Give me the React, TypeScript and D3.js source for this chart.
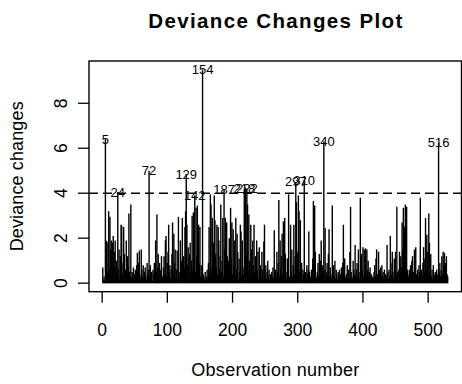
import React from "react";
import * as d3 from "d3";

// Deviance change per observation (index 1..530)
const devianceChanges: number[] = [
  0.7, 0.15, 0.3, 0.1, 6.4, 1.9, 1.85, 0.5, 1.8, 3.2,
  0.6, 2.95, 1.5, 1.9, 0.4, 1.8, 2.1, 0.3, 1.4, 1.9,
  0.5, 1.0, 0.3, 4.05, 0.6, 1.5, 0.2, 1.2, 2.6, 2.55,
  0.4, 0.9, 2.5, 1.3, 0.3, 0.6, 1.9, 0.2, 1.2, 0.8,
  3.1, 0.5, 0.3, 3.5, 0.3, 0.5, 0.2, 0.7, 0.1, 0.4,
  0.6, 0.2, 0.8, 1.35, 0.3, 0.9, 1.45, 0.4, 0.2, 1.5,
  0.6, 0.3, 0.8, 0.2, 0.5, 0.7, 0.3, 0.15, 0.9, 0.4,
  0.6, 5.0, 0.3, 0.8, 0.2, 0.5, 0.1, 0.6, 0.4, 0.9,
  0.3, 1.9, 0.5, 3.05, 0.7, 1.3, 0.2, 0.9, 0.4, 0.6,
  1.2, 0.2, 0.3, 0.7, 1.2, 0.4, 1.9, 2.1, 0.3, 0.9,
  1.4, 2.6, 0.5, 0.8, 0.2, 0.6, 1.3, 2.7, 0.4, 2.2,
  0.9, 1.5, 0.3, 0.6, 1.45, 0.2, 2.95, 0.5, 0.3, 1.9,
  0.6, 1.0, 2.9, 0.4, 1.2, 0.7, 2.5, 3.2, 4.85, 2.6,
  0.8, 1.6, 0.3, 1.3, 1.8, 0.5, 1.0, 3.0, 0.6, 3.15,
  1.7, 3.9, 0.5, 3.35, 1.2, 3.45, 0.4, 2.6, 0.9, 2.5,
  0.3, 0.8, 0.2, 9.5, 0.4, 0.3, 0.2, 0.5, 0.1, 0.3,
  0.6, 0.2, 0.9, 2.5, 0.4, 3.95, 3.5, 0.6, 2.9, 0.5,
  1.8, 3.9, 2.8, 1.3, 0.7, 2.6, 0.4, 2.5, 1.9, 0.6,
  1.2, 3.5, 0.5, 1.0, 2.9, 0.3, 4.15, 1.5, 2.9, 0.6,
  2.7, 1.2, 0.4, 1.0, 2.0, 0.5, 3.35, 1.1, 2.7, 0.4,
  2.4, 0.8, 1.9, 0.3, 2.9, 0.6, 2.2, 1.4, 0.2, 1.1,
  0.5, 2.6, 2.3, 0.3, 1.9, 0.7, 0.4, 4.2, 0.9, 4.25,
  1.3, 4.2, 3.5, 0.6, 3.05, 1.0, 0.4, 2.6, 1.5, 0.3,
  1.9, 0.8, 2.6, 0.5, 1.2, 0.3, 1.9, 0.6, 1.4, 0.2,
  1.6, 0.5, 0.8, 0.3, 1.4, 0.6, 0.2, 1.85, 2.6, 0.4,
  0.8, 0.2, 0.5, 1.0, 0.3, 0.6, 0.15, 0.4, 0.2, 0.5,
  0.3, 0.7, 0.2, 2.35, 0.4, 0.6, 0.2, 1.4, 0.5, 0.9,
  3.7, 0.3, 1.9, 0.6, 1.2, 2.2, 0.4, 2.75, 0.8, 2.9,
  1.3, 0.5, 0.2, 1.1, 0.6, 3.95, 0.3, 0.2, 2.6, 0.5,
  1.5, 0.3, 0.8, 2.6, 0.4, 1.2, 4.5, 3.6, 0.6, 1.4,
  3.9, 3.2, 0.5, 2.8, 0.3, 0.9, 0.2, 0.6, 0.4, 4.55,
  0.3, 0.5, 0.2, 0.8, 0.4, 0.6, 2.3, 0.5, 0.2, 0.3,
  0.6, 0.2, 1.1, 3.65, 0.5, 3.45, 1.4, 0.3, 0.2, 0.5,
  0.9, 0.3, 1.3, 0.6, 1.0, 1.9, 0.4, 0.8, 0.5, 6.3,
  0.6, 2.45, 0.3, 0.5, 0.9, 0.4, 1.3, 2.4, 0.3, 0.7,
  0.4, 0.2, 3.45, 0.5, 0.8, 0.3, 1.0, 0.2, 0.6, 0.4,
  0.15, 0.5, 0.3, 0.6, 0.2, 0.4, 0.7, 0.3, 0.9, 2.6,
  0.5, 1.1, 0.3, 0.2, 0.4, 0.8, 0.3, 0.6, 0.2, 1.4,
  3.4, 0.5, 0.3, 0.2, 1.0, 0.6, 0.4, 1.7, 0.3, 0.6,
  0.9, 0.3, 1.5, 0.5, 0.2, 3.8, 0.4, 1.3, 0.6, 1.6,
  0.3, 1.5, 0.5, 1.55, 0.4, 1.5, 0.6, 1.0, 0.3, 0.5,
  0.7, 0.2, 0.4, 0.1, 0.3, 0.2, 0.5, 0.8, 0.3, 1.1,
  1.5, 0.4, 0.3, 1.4, 0.6, 0.2, 0.7, 0.4, 0.8, 0.3,
  0.5, 0.2, 0.6, 0.1, 0.4, 0.3, 1.7, 0.5, 0.2, 0.6,
  0.3, 2.1, 0.9, 0.4, 1.4, 0.5, 0.2, 1.1, 0.6, 1.4,
  0.3, 3.4, 0.5, 0.2, 0.6, 1.4, 0.4, 1.2, 0.7, 2.7,
  1.5, 3.35, 0.8, 2.5, 3.5, 1.1, 3.4, 0.6, 0.4, 0.3,
  0.6, 0.2, 0.8, 0.5, 1.0, 1.2, 0.2, 0.5, 1.5, 0.1,
  1.6, 0.4, 0.2, 0.6, 0.3, 0.8, 0.5, 3.8, 0.4, 0.6,
  0.3, 0.9, 1.6, 0.5, 1.1, 2.9, 0.6, 2.15, 1.4, 0.4,
  3.1, 1.8, 0.5, 1.3, 0.3, 0.6, 0.2, 0.8, 0.4, 0.3,
  0.5, 0.2, 0.6, 0.4, 0.3, 6.25, 0.5, 0.9, 0.3, 0.6,
  1.2, 0.4, 1.4, 0.8, 1.35, 0.6, 0.9, 1.2, 0.4, 0.3,
];

// Observations whose numbers are printed on the plot
const labelledObs: number[] = [5, 24, 72, 129, 142, 154, 187, 218, 222, 297, 310, 340, 516];

const xTicks: number[] = [0, 100, 200, 300, 400, 500];
const yTicks: number[] = [0, 2, 4, 6, 8];
const cutoff = 4;

const title = "Deviance Changes Plot";
const xLabel = "Observation number";
const yLabel = "Deviance changes";

const W = 462;
const H = 384;
const FONT = "'Liberation Sans', Arial, Helvetica, sans-serif";

export default function App() {
  const n = devianceChanges.length;
  const left = 89;
  const right = 461.5;
  const top = 61;
  const bottom = 291.7;

  const xr = n - 1;
  const x = d3
    .scaleLinear()
    .domain([1 - 0.04 * xr, n + 0.04 * xr])
    .range([left, right]);
  const yMax = d3.max(devianceChanges) as number;
  const y = d3
    .scaleLinear()
    .domain([-0.04 * yMax, yMax * 1.04])
    .range([bottom, top]);

  const y0 = y(0);

  return (
    <svg
      width={W}
      height={H}
      viewBox={`0 0 ${W} ${H}`}
      style={{ display: "block", position: "absolute", left: 0, top: 0, background: "#fff" }}
    >
      <rect x={0} y={0} width={W} height={H} fill="#fff" />
      {/* title */}
      <text
        x={(left + right) / 2}
        y={27.5}
        textAnchor="middle"
        fontFamily={FONT}
        fontWeight="bold"
        fontSize={20.5}
        textLength={254}
        lengthAdjust="spacing"
      >
        {title}
      </text>

      {/* spikes */}
      <g stroke="#000" strokeWidth={1.4}>
        {devianceChanges.map((v, i) => (
          <line key={i} x1={x(i + 1)} x2={x(i + 1)} y1={y0} y2={y(v)} />
        ))}
      </g>

      {/* cutoff line */}
      <line
        x1={left}
        x2={right}
        y1={y(cutoff)}
        y2={y(cutoff)}
        stroke="#000"
        strokeWidth={1.4}
        strokeDasharray="9 5"
      />

      {/* point labels */}
      <g fontFamily={FONT} fontSize={13} fill="#000" textAnchor="middle">
        {labelledObs.map((o) => (
          <text key={o} x={x(o)} y={y(devianceChanges[o - 1])} dominantBaseline="central">
            {String(o)}
          </text>
        ))}
      </g>

      {/* box */}
      <rect
        x={left}
        y={top}
        width={right - left}
        height={bottom - top}
        fill="none"
        stroke="#000"
        strokeWidth={1.4}
      />

      {/* x axis */}
      <g stroke="#000" strokeWidth={1.3}>
        {xTicks.map((t) => (
          <line key={t} x1={x(t)} x2={x(t)} y1={bottom} y2={bottom + 11} />
        ))}
      </g>
      <g fontFamily={FONT} fontSize={17.5} textAnchor="middle">
        {xTicks.map((t) => (
          <text key={t} x={x(t)} y={335.5}>
            {String(t)}
          </text>
        ))}
      </g>
      <text
        x={(left + right) / 2}
        y={375.5}
        textAnchor="middle"
        fontFamily={FONT}
        fontSize={18}
        textLength={168}
        lengthAdjust="spacing"
      >
        {xLabel}
      </text>

      {/* y axis */}
      <g stroke="#000" strokeWidth={1.3}>
        {yTicks.map((t) => (
          <line key={t} x1={left - 11} x2={left} y1={y(t)} y2={y(t)} />
        ))}
      </g>
      <g fontFamily={FONT} fontSize={17.5} textAnchor="middle">
        {yTicks.map((t) => (
          <text key={t} transform={`translate(67,${y(t)}) rotate(-90)`}>
            {String(t)}
          </text>
        ))}
      </g>
      <text
        transform={`translate(23,${(top + bottom) / 2}) rotate(-90)`}
        textAnchor="middle"
        fontFamily={FONT}
        fontSize={18}
        textLength={150}
        lengthAdjust="spacing"
      >
        {yLabel}
      </text>
    </svg>
  );
}
